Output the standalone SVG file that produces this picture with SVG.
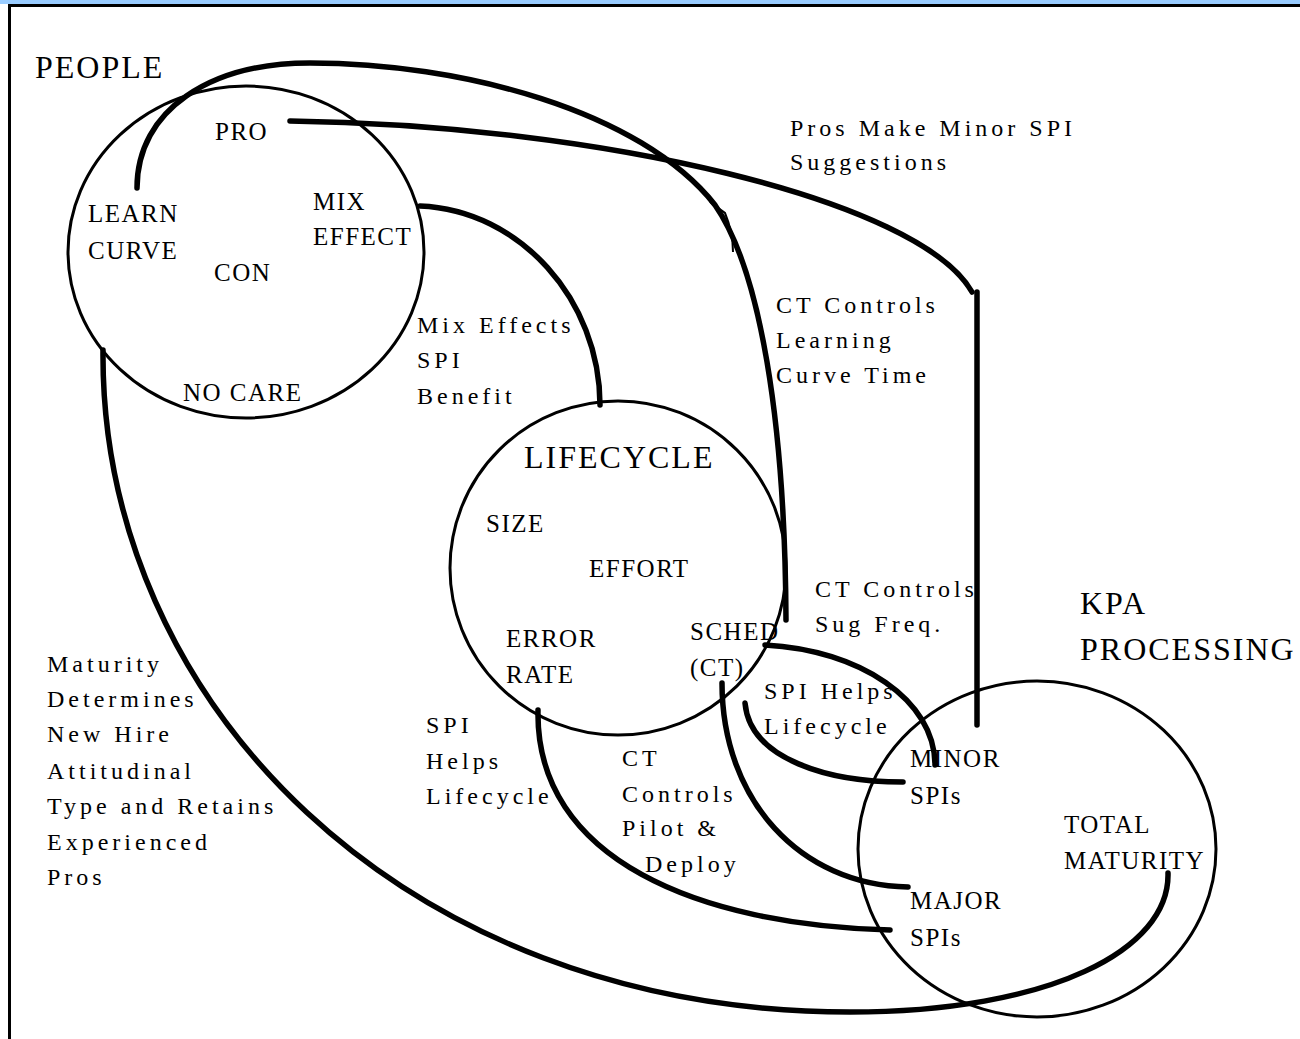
<svg xmlns="http://www.w3.org/2000/svg" width="1300" height="1039" viewBox="0 0 1300 1039">
<style>
.ring{fill:none;stroke:#000;stroke-width:3}
.edge{fill:none;stroke:#000;stroke-width:5.5;stroke-linecap:round}
.big{font-family:"Liberation Serif",serif;font-size:32px;letter-spacing:2px;fill:#000}
.nd{font-family:"Liberation Serif",serif;font-size:25px;letter-spacing:1.5px;fill:#000}
.lb{font-family:"Liberation Serif",serif;font-size:24px;letter-spacing:4px;fill:#000}
</style>
<rect x="0" y="0" width="1300" height="1039" fill="#fff"/>
<rect x="0" y="0" width="1300" height="4" fill="#99ccff"/>
<rect x="8" y="4" width="1292" height="3" fill="#000"/>
<rect x="8" y="4" width="3" height="1035" fill="#000"/>

<g id="people">
<ellipse class="ring" cx="246" cy="252" rx="178" ry="166"/>
<text class="big" x="35" y="78">PEOPLE</text>
<text class="nd" x="215" y="140">PRO</text>
<text class="nd" x="88" y="222">LEARN</text>
<text class="nd" x="88" y="259">CURVE</text>
<text class="nd" x="313" y="210">MIX</text>
<text class="nd" x="313" y="245">EFFECT</text>
<text class="nd" x="214" y="281">CON</text>
<text class="nd" x="183" y="401">NO CARE</text>
</g>

<g id="lifecycle">
<ellipse class="ring" cx="618" cy="568" rx="168" ry="167"/>
<text class="big" x="524" y="468">LIFECYCLE</text>
<text class="nd" x="486" y="532">SIZE</text>
<text class="nd" x="589" y="577">EFFORT</text>
<text class="nd" x="506" y="647">ERROR</text>
<text class="nd" x="506" y="683">RATE</text>
<text class="nd" x="690" y="640">SCHED</text>
<text class="nd" x="690" y="676">(CT)</text>
</g>

<g id="kpa">
<ellipse class="ring" cx="1037" cy="849" rx="179" ry="168"/>
<text class="big" x="1080" y="614">KPA</text>
<text class="big" x="1080" y="660">PROCESSING</text>
<text class="nd" x="910" y="767">MINOR</text>
<text class="nd" x="910" y="804">SPIs</text>
<text class="nd" x="1064" y="833">TOTAL</text>
<text class="nd" x="1064" y="869">MATURITY</text>
<text class="nd" x="910" y="909">MAJOR</text>
<text class="nd" x="910" y="946">SPIs</text>
</g>

<g id="connectors">
<path class="edge" d="M137,188 C137,110 210,63 310,63 C460,63 640,110 715,205 C760,270 785,420 786,620"/>
<path d="M710,202 L725,213 C730,225 733,240 733,252" fill="none" stroke="#000" stroke-width="2"/>
<path class="edge" d="M290,121 C600,125 920,200 972,292"/>
<path class="edge" d="M977,292 V725"/>
<path class="edge" d="M420,206 C520,210 600,300 600,405"/>
<path class="edge" d="M103,350 C100,700 400,1012 850,1012 C1050,1012 1170,950 1168,873"/>
<path class="edge" d="M765,645 C860,650 935,700 935,765"/>
<path class="edge" d="M745,703 C750,760 830,782 903,782"/>
<path class="edge" d="M722,683 C722,800 800,885 908,887"/>
<path class="edge" d="M538,710 C535,860 700,925 890,930"/>
</g>

<g id="labels">
<text class="lb" x="790" y="136">Pros Make Minor SPI</text>
<text class="lb" x="790" y="170">Suggestions</text>
<text class="lb" x="776" y="313">CT Controls</text>
<text class="lb" x="776" y="348">Learning</text>
<text class="lb" x="776" y="383">Curve Time</text>
<text class="lb" x="417" y="333">Mix Effects</text>
<text class="lb" x="417" y="368">SPI</text>
<text class="lb" x="417" y="404">Benefit</text>
<text class="lb" x="815" y="597">CT Controls</text>
<text class="lb" x="815" y="632">Sug Freq.</text>
<text class="lb" x="764" y="699">SPI Helps</text>
<text class="lb" x="764" y="734">Lifecycle</text>
<text class="lb" x="426" y="733">SPI</text>
<text class="lb" x="426" y="769">Helps</text>
<text class="lb" x="426" y="804">Lifecycle</text>
<text class="lb" x="622" y="766">CT</text>
<text class="lb" x="622" y="802">Controls</text>
<text class="lb" x="622" y="836">Pilot &amp;</text>
<text class="lb" x="645" y="872">Deploy</text>
<text class="lb" x="47" y="672">Maturity</text>
<text class="lb" x="47" y="707">Determines</text>
<text class="lb" x="47" y="742">New Hire</text>
<text class="lb" x="47" y="779">Attitudinal</text>
<text class="lb" x="47" y="814">Type and Retains</text>
<text class="lb" x="47" y="850">Experienced</text>
<text class="lb" x="47" y="885">Pros</text>
</g>
</svg>
